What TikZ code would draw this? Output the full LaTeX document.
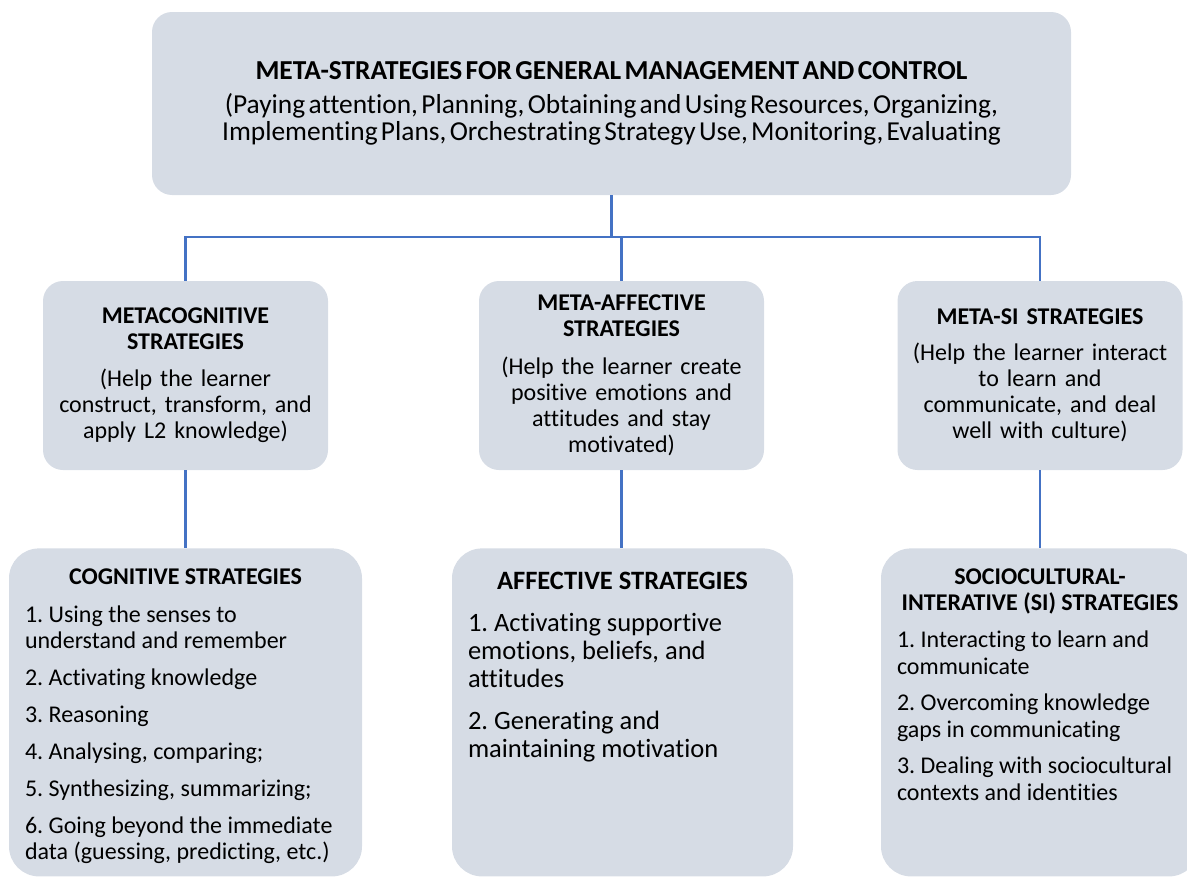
\documentclass[tikz,border=0pt]{standalone}
\usepackage{fontspec}
\setmainfont{Carlito}[Ligatures=NoCommon]
\usetikzlibrary{positioning}
\definecolor{boxfill}{HTML}{D6DCE5}
\definecolor{linkblue}{HTML}{4472C4}
\frenchspacing

\begin{document}
\begin{tikzpicture}[x=1pt, y=-1pt, midbox/.style={fill=boxfill, rounded corners=20pt, inner sep=0pt, minimum width=285pt, minimum height=189pt, text width=265pt, align=center, font=\fontsize{24}{26}\selectfont}, lowbox/.style={fill=boxfill, rounded corners=30pt, inner xsep=16pt, inner ysep=14pt, font=\fontsize{24}{26}\selectfont}, link/.style={draw=linkblue, line width=2.5pt}]
\path[use as bounding box, clip] (0,0) rectangle (1187,878);
\node[fill=boxfill, rounded corners=20pt, inner sep=0pt, minimum width=919pt, minimum height=183pt, text width=880pt, align=center] (M) at (611.5,103.5) {{\fontsize{27.4}{30}\selectfont\bfseries META-STRATEGIES FOR GENERAL MANAGEMENT AND CONTROL\par}\vspace{7pt}{\fontsize{27.4}{27}\selectfont (Paying attention, Planning, Obtaining and Using Resources, Organizing,\\ Implementing Plans, Orchestrating Strategy Use, Monitoring, Evaluating\par}};
\node[midbox] (MC) at (185.5,375.5) {\textbf{METACOGNITIVE\\ STRATEGIES}\\[11pt] (Help the learner\\ construct, transform, and\\ apply L2 knowledge)};
\node[midbox] (MA) at (621.5,375.5) {\textbf{META-AFFECTIVE\\ STRATEGIES}\\[12pt] (Help the learner create\\ positive emotions and\\ attitudes and stay\\ motivated)};
\node[midbox] (MS) at (1040,375.5) {\textbf{META-SI STRATEGIES}\\[10pt] (Help the learner interact\\ to learn and\\ communicate, and deal\\ well with culture)};
\node[lowbox] (C) [below=78pt of MC] {\begin{minipage}[t][300pt][t]{321pt}\vspace*{6pt}\centering\textbf{COGNITIVE STRATEGIES}\par\vspace{12pt}\raggedright
1. Using the senses to\\ understand and remember\\[11pt]
2. Activating knowledge\\[11pt]
3. Reasoning\\[11pt]
4. Analysing, comparing;\\[11pt]
5. Synthesizing, summarizing;\\[11pt]
6. Going beyond the immediate\\ data (guessing, predicting, etc.)\end{minipage}};
\node[lowbox, font=\fontsize{26.5}{28}\selectfont] (A) [below=78pt of MA, xshift=1pt] {\begin{minipage}[t][300pt][t]{309pt}\vspace*{10pt}\centering\textbf{AFFECTIVE STRATEGIES}\par\vspace{14pt}\raggedright
1. Activating supportive\\ emotions, beliefs, and\\ attitudes\\[14pt]
2. Generating and\\ maintaining motivation\end{minipage}};
\node[lowbox, font=\fontsize{24}{26.5}\selectfont] (S) [below=78pt of MS] {\begin{minipage}[t][300pt][t]{286pt}\vspace*{6pt}\centering\textbf{SOCIOCULTURAL-\\ INTERATIVE (SI) STRATEGIES}\par\vspace{10.5pt}\raggedright
1. Interacting to learn and\\ communicate\\[10pt]
2. Overcoming knowledge\\ gaps in communicating\\[10pt]
3. Dealing with sociocultural\\ contexts and identities\end{minipage}};
\coordinate (J) at (611.5,237);
\draw[link] (M.south) -- (J);
\draw[link] (MC.north) |- (J) -| (MS.north);
\draw[link] (MA.north) -- (MA.north |- J);
\draw[link] (MC.south) -- (C.north);
\draw[link] (MA.south) -- (MA.south |- A.north);
\draw[link] (MS.south) -- (S.north);
\end{tikzpicture}
\end{document}
